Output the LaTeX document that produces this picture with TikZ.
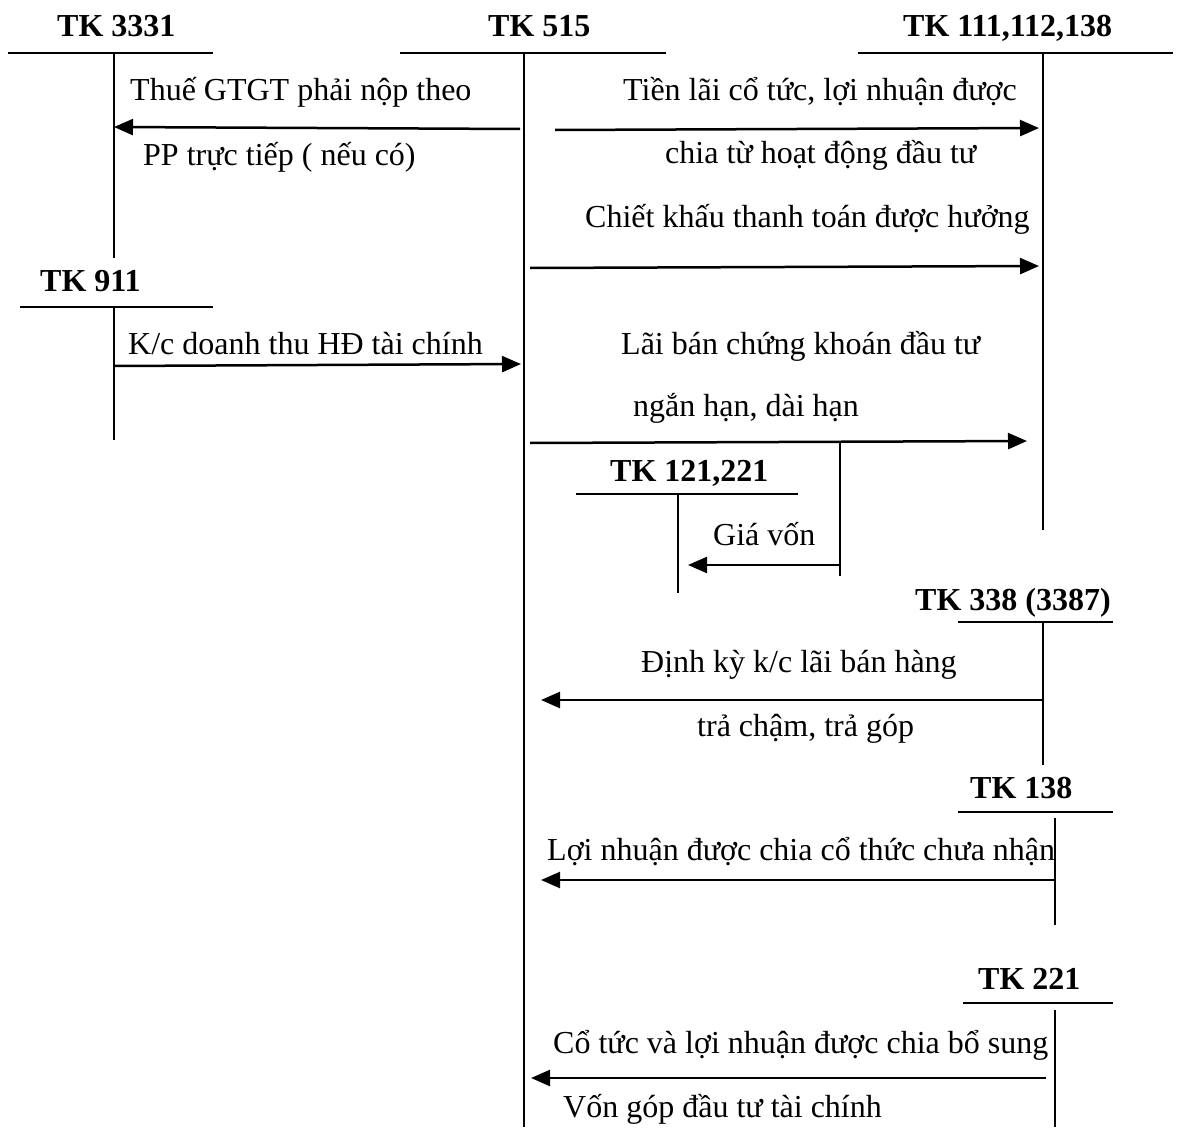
\documentclass[tikz,border=0pt]{standalone}
\usepackage{fontspec}
\setmainfont{Liberation Serif}
\usetikzlibrary{arrows.meta}
\tikzset{
  txt/.style={inner sep=0pt, font=\fontsize{32}{38}\selectfont, anchor=base west},
  ttl/.style={inner sep=0pt, font=\fontsize{32}{38}\selectfont\bfseries, anchor=base west},
  tline/.style={line width=1.6pt},
  arr/.style={line width=2.5pt, -{Triangle[length=19pt,width=16pt]}}
}
\begin{document}
\begin{tikzpicture}[x=1pt,y=-1pt]
\useasboundingbox (0,0) rectangle (1179,1129);
% T accounts
% TK 3331
\node[ttl] (t3331) at (57,37) {TK 3331};
\coordinate (h3331a) at (8,53); \coordinate (h3331b) at (213,53);
\coordinate (v3331a) at (114,53); \coordinate (v3331b) at (114,258);
\draw[tline] (h3331a) -- (h3331b); \draw[tline] (v3331a) -- (v3331b);
% TK 515
\node[ttl] (t515) at (488,37) {TK 515};
\coordinate (h515a) at (400,53); \coordinate (h515b) at (666,53);
\coordinate (v515a) at (524,53); \coordinate (v515b) at (524,1127);
\draw[tline] (h515a) -- (h515b); \draw[tline] (v515a) -- (v515b);
% TK 111
\node[ttl] (t111) at (903,37) {TK 111,112,138};
\coordinate (h111a) at (858,53); \coordinate (h111b) at (1173,53);
\coordinate (v111a) at (1043,53); \coordinate (v111b) at (1043,530);
\draw[tline] (h111a) -- (h111b); \draw[tline] (v111a) -- (v111b);
% TK 911
\node[ttl] (t911) at (40,291) {TK 911};
\coordinate (h911a) at (20,307); \coordinate (h911b) at (213,307);
\coordinate (v911a) at (114,307); \coordinate (v911b) at (114,440);
\draw[tline] (h911a) -- (h911b); \draw[tline] (v911a) -- (v911b);
% TK 121,221
\node[ttl] (t121) at (610,481) {TK 121,221};
\coordinate (h121a) at (576,494); \coordinate (h121b) at (798,494);
\coordinate (v121a) at (678,494); \coordinate (v121b) at (678,593);
\draw[tline] (h121a) -- (h121b); \draw[tline] (v121a) -- (v121b);
% TK 338
\node[ttl] (t338) at (915,610) {TK 338 (3387)};
\coordinate (h338a) at (958,622); \coordinate (h338b) at (1113,622);
\coordinate (v338a) at (1043,622); \coordinate (v338b) at (1043,765);
\draw[tline] (h338a) -- (h338b); \draw[tline] (v338a) -- (v338b);
% TK 138
\node[ttl] (t138) at (970,798) {TK 138};
\coordinate (h138a) at (958,812); \coordinate (h138b) at (1113,812);
\coordinate (v138a) at (1055,818); \coordinate (v138b) at (1055,925);
\draw[tline] (h138a) -- (h138b); \draw[tline] (v138a) -- (v138b);
% TK 221
\node[ttl] (t221) at (978,989) {TK 221};
\coordinate (h221a) at (963,1003); \coordinate (h221b) at (1113,1003);
\coordinate (v221a) at (1055,1010); \coordinate (v221b) at (1055,1127);
\draw[tline] (h221a) -- (h221b); \draw[tline] (v221a) -- (v221b);

% Arrow 1
\coordinate (a1s) at (520,129); \coordinate (a1e) at (114,127);
\draw[arr] (a1s) -- (a1e);
\node[txt] (l1a) at (130,101) {Thuế GTGT phải nộp theo};
\node[txt] (l1b) at (143,166) {PP trực tiếp ( nếu có)};
% Arrow 2
\coordinate (a2s) at (555,130); \coordinate (a2e) at (1039,128);
\draw[arr] (a2s) -- (a2e);
\node[txt] (l2a) at (623,101) {Tiền lãi cổ tức, lợi nhuận được};
\node[txt] (l2b) at (665,164) {chia từ hoạt động đầu tư};
% Arrow 3
\coordinate (a3s) at (530,268); \coordinate (a3e) at (1039,266);
\draw[arr] (a3s) -- (a3e);
\node[txt] (l3) at (585,228) {Chiết khấu thanh toán được hưởng};
% Arrow 4
\coordinate (a4s) at (114,366); \coordinate (a4e) at (521,364);
\draw[arr] (a4s) -- (a4e);
\node[txt] (l4) at (128,354) {K/c doanh thu HĐ tài chính};
% Arrow 5
\coordinate (a5s) at (530,443); \coordinate (a5e) at (1027,441);
\draw[arr] (a5s) -- (a5e);
\node[txt] (l5a) at (621,354) {Lãi bán chứng khoán đầu tư};
\node[txt] (l5b) at (633,416) {ngắn hạn, dài hạn};
\coordinate (v5a) at (840,443); \coordinate (v5b) at (840,576);
\draw[tline] (v5a) -- (v5b);
% Arrow 6
\coordinate (a6s) at (840,565); \coordinate (a6e) at (688,565);
\draw[arr] (a6s) -- (a6e);
\node[txt] (l6) at (713,545) {Giá vốn};
% Arrow 7
\coordinate (a7s) at (1043,700); \coordinate (a7e) at (541,700);
\draw[arr] (a7s) -- (a7e);
\node[txt] (l7a) at (641,672) {Định kỳ k/c lãi bán hàng};
\node[txt] (l7b) at (697,736) {trả chậm, trả góp};
% Arrow 8
\coordinate (a8s) at (1055,880); \coordinate (a8e) at (541,880);
\draw[arr] (a8s) -- (a8e);
\node[txt] (l8) at (547,860) {Lợi nhuận được chia cổ thức chưa nhận};
% Arrow 9
\coordinate (a9s) at (1046,1078); \coordinate (a9e) at (531,1078);
\draw[arr] (a9s) -- (a9e);
\node[txt] (l9a) at (553,1053) {Cổ tức và lợi nhuận được chia bổ sung};
\node[txt] (l9b) at (563,1117) {Vốn góp đầu tư tài chính};
\end{tikzpicture}
\end{document}
